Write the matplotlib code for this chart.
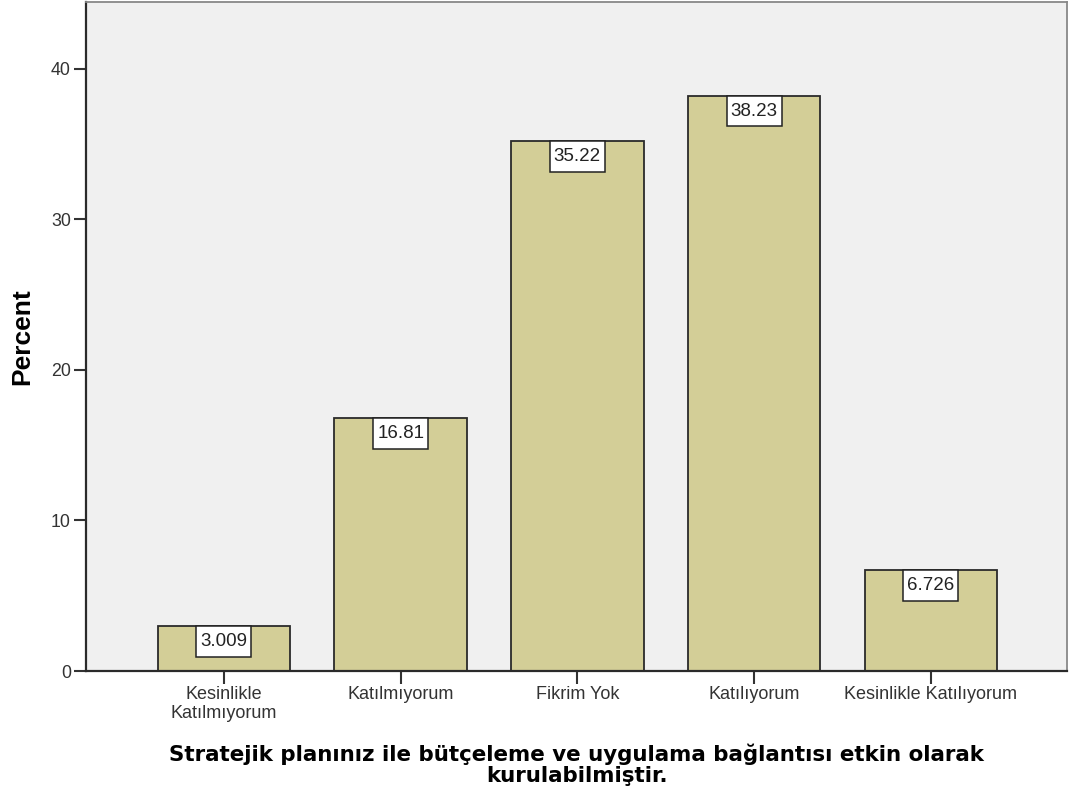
import matplotlib
matplotlib.use("Agg")
import matplotlib.pyplot as plt
from matplotlib.path import Path

categories = ["Kesinlikle\nKatılmıyorum", "Katılmıyorum", "Fikrim Yok",
              "Katılıyorum", "Kesinlikle Katılıyorum"]
percents = [3.009, 16.81, 35.22, 38.23, 6.726]
value_labels = ["3.009", "16.81", "35.22", "38.23", "6.726"]
y_ticks = [0, 10, 20, 30, 40]

# label box padding, as fractions of the font size
PAD_X = 0.21
PAD_Y = 0.37


def label_box(x0, y0, width, height, mutation_size):
    """Rectangle with separate horizontal and vertical padding."""
    px = PAD_X * mutation_size
    py = PAD_Y * mutation_size
    xa, xb = x0 - px, x0 + width + px
    ya, yb = y0 - py, y0 + height + py
    return Path([(xa, ya), (xb, ya), (xb, yb), (xa, yb), (xa, ya)],
                [Path.MOVETO, Path.LINETO, Path.LINETO, Path.LINETO,
                 Path.CLOSEPOLY])


fig = plt.figure(figsize=(10.70, 7.99), dpi=100)
fig.patch.set_facecolor("white")
ax = fig.add_axes([0.0804, 0.1602, 0.9168, 0.8373])
ax.set_facecolor("#F0F0F0")

x = list(range(len(categories)))
ax.bar(x, percents, width=0.75, color="#D3CE97", edgecolor="#2A2A2A",
       linewidth=1.3, zorder=2)

label_size = 13.5
for xi, v, lab in zip(x, percents, value_labels):
    ax.annotate(lab, xy=(xi, v), xytext=(0, -PAD_Y * label_size),
                textcoords="offset points", ha="center", va="top",
                fontsize=label_size, family="Liberation Sans",
                color="#222222", zorder=3,
                bbox=dict(boxstyle=label_box, facecolor="white",
                          edgecolor="#222222", linewidth=1.1))

ax.set_xlim(-0.78, 4.77)
ax.set_ylim(0, 44.45)
ax.set_yticks(y_ticks)
ax.set_yticklabels([str(t) for t in y_ticks], family="Liberation Sans",
                   fontsize=12.8, color="#333333")
ax.set_xticks(x)
ax.set_xticklabels(categories, family="Liberation Sans", fontsize=13,
                   color="#333333", linespacing=1.15)

ax.tick_params(axis="both", direction="out", length=9, width=1.5,
               color="#333333")
ax.tick_params(axis="y", pad=2)
ax.tick_params(axis="x", pad=2)

for side in ["left", "bottom"]:
    ax.spines[side].set_color("#2A2A2A")
    ax.spines[side].set_linewidth(1.6)
for side in ["top", "right"]:
    ax.spines[side].set_color("#888888")
    ax.spines[side].set_linewidth(1.3)

ax.set_ylabel("Percent", family="Liberation Sans", fontweight="bold",
              fontsize=19, labelpad=12)
ax.set_xlabel("Stratejik planınız ile bütçeleme ve uygulama bağlantısı etkin olarak\nkurulabilmiştir.",
              family="DejaVu Sans", fontweight="bold", fontsize=15.4,
              linespacing=1.08, labelpad=15)

fig.savefig("out.png", dpi=100)
